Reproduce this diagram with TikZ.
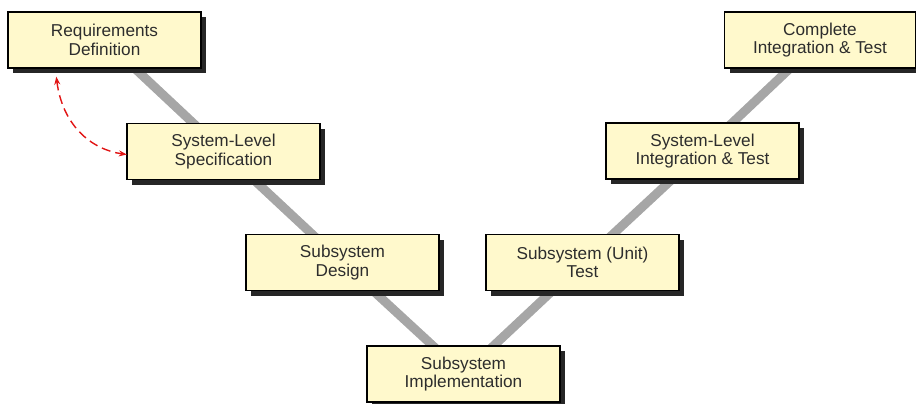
\documentclass[tikz,border=0pt]{standalone}
\usepackage{fontspec}
\setmainfont{Liberation Sans}
\usetikzlibrary{shadows,backgrounds,arrows.meta}
\definecolor{boxfill}{RGB}{255,249,204}
\definecolor{shadowcol}{RGB}{38,38,38}
\definecolor{linkgray}{RGB}{166,166,166}
\definecolor{textcol}{RGB}{45,45,45}
\definecolor{loopred}{RGB}{225,20,20}
\tikzset{
  phase/.style={draw=black, line width=1.4pt, fill=boxfill,
    minimum width=193pt, minimum height=56pt, inner sep=0pt,
    align=center, text=textcol,
    font=\fontsize{17.2pt}{18.5pt}\selectfont,
    general shadow={fill=shadowcol, shadow xshift=5pt, shadow yshift=-5pt}},
  vlink/.style={draw=linkgray, line width=9pt},
  iterate/.style={draw=loopred, line width=1.4pt, dash pattern=on 9pt off 5pt,
    {Stealth[length=8pt,width=6pt]}-{Stealth[length=8pt,width=6pt]}}
}
\begin{document}
\begin{tikzpicture}[x=1pt,y=-1pt]
\useasboundingbox (0,0) rectangle (916,404);
% phases of the V model
\node[phase] (req)      at (104.5,40)  {Requirements\\Definition};
\node[phase] (spec)     at (223.5,151.5) {System-Level\\Specification};
\node[phase] (design)   at (342.5,262.5) {Subsystem\\Design};
\node[phase] (impl)     at (463.5,374) {Subsystem\\Implementation};
\node[phase] (utest)    at (582.5,262.5) {Subsystem (Unit)\\Test};
\node[phase] (sysint)   at (702.5,151) {System-Level\\Integration \& Test};
\node[phase, minimum width=191pt] (complete) at (820,40) {Complete\\Integration \& Test};
% the V itself, behind the boxes
\begin{scope}[on background layer]
  \draw[vlink] (req.center) -- (spec.center) -- (design.center) -- (impl.center)
     -- (utest.center) -- (sysint.center) -- (complete.center);
\end{scope}
% iteration between requirements and specification
\draw[iterate] ([xshift=49pt,yshift=-8pt]req.south west)
   .. controls +(6,48) and +(-36,-5) .. ([xshift=0.5pt,yshift=-3pt]spec.west);
\end{tikzpicture}
\end{document}
